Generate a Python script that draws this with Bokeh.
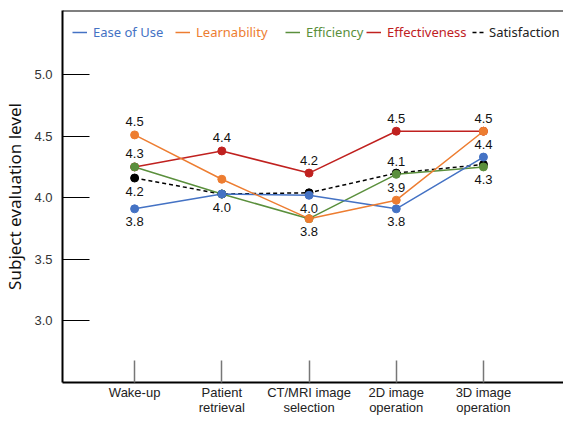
from bokeh.plotting import figure
from bokeh.models import Range1d, FixedTicker, Span, Legend, LegendItem, ColumnDataSource
from bokeh.core.properties import value
from bokeh.embed import file_html
from bokeh.resources import INLINE

# ---- data ----
tasks = ["Wake-up", "Patient\nretrieval", "CT/MRI image\nselection", "2D image\noperation", "3D image\noperation"]
series_names = ["Ease of Use", "Learnability", "Efficiency", "Effectiveness", "Satisfaction"]

ease_of_use = [3.91, 4.03, 4.02, 3.91, 4.33]
learnability = [4.51, 4.15, 3.83, 3.98, 4.54]
efficiency = [4.25, 4.03, 3.83, 4.19, 4.25]
effectiveness = [4.25, 4.38, 4.20, 4.54, 4.54]
satisfaction = [4.16, 4.03, 4.04, 4.20, 4.27]

ease_labels = ["3.8", "4.0", "4.0", "3.8", "4.4"]
ease_sides = ["below", "below", "below", "below", "above"]
learn_labels = ["4.5", "", "3.8", "3.9", "4.5"]
learn_sides = ["above", "", "below", "above", "above"]
eff_labels = ["4.3", "", "", "4.1", "4.3"]
eff_sides = ["above", "", "", "above", "below"]
effect_labels = ["", "4.4", "4.2", "4.5", ""]
effect_sides = ["", "above", "above", "above", ""]
sat_labels = ["4.2", "", "", "", ""]
sat_sides = ["below", "", "", "", ""]

y_ticks = [3.0, 3.5, 4.0, 4.5, 5.0]

# ---- styling ----
colors = {"Ease of Use": "#4472C4", "Learnability": "#ED7D31", "Efficiency": "#5A8F3C",
          "Effectiveness": "#C0211F", "Satisfaction": "#000000"}

x = list(range(len(tasks)))
y_start, y_end = 2.5, 5.52

p = figure(width=563, height=419, output_backend="svg", toolbar_location=None,
           x_range=Range1d(-0.827, 4.918), y_range=Range1d(y_start, y_end),
           min_border_left=56, min_border_right=0, min_border_top=10, min_border_bottom=37)
p.outline_line_color = None
p.xgrid.visible = False
p.ygrid.visible = False
p.background_fill_color = "white"

p.add_layout(Span(location=y_end, dimension="width", line_color="black", line_width=2))

# axes
p.yaxis.ticker = FixedTicker(ticks=y_ticks)
p.yaxis.major_label_overrides = {t: f"{t:.1f}" for t in y_ticks}
p.yaxis.axis_line_width = 2
p.yaxis.axis_line_color = "black"
p.yaxis.major_tick_in = 27
p.yaxis.major_tick_out = 0
p.yaxis.major_tick_line_color = "black"
p.yaxis.minor_tick_line_color = None
p.yaxis.major_label_standoff = 10
p.yaxis.major_label_text_font = "Liberation Sans"
p.yaxis.major_label_text_font_size = "13px"
p.yaxis.major_label_text_color = "#333333"
p.yaxis.axis_label = "Subject evaluation level"
p.yaxis.axis_label_text_font = "Noto Sans"
p.yaxis.axis_label_text_font_size = "17px"
p.yaxis.axis_label_text_font_style = "normal"
p.yaxis.axis_label_text_color = "#111111"
p.yaxis.axis_label_standoff = 5

p.xaxis.ticker = FixedTicker(ticks=x)
p.xaxis.major_label_overrides = {i: t for i, t in zip(x, tasks)}
p.xaxis.axis_line_width = 2
p.xaxis.axis_line_color = "black"
p.xaxis.major_tick_in = 22
p.xaxis.major_tick_out = 0
p.xaxis.major_tick_line_color = "#777777"
p.xaxis.major_tick_line_width = 1.5
p.xaxis.minor_tick_line_color = None
p.xaxis.major_label_standoff = 2
p.xaxis.major_label_text_font = "Liberation Sans"
p.xaxis.major_label_text_font_size = "13px"
p.xaxis.major_label_text_line_height = 1.05
p.xaxis.major_label_text_color = "#222222"

data = {"Ease of Use": ease_of_use, "Learnability": learnability, "Efficiency": efficiency,
        "Effectiveness": effectiveness, "Satisfaction": satisfaction}
labels = {"Ease of Use": (ease_labels, ease_sides), "Learnability": (learn_labels, learn_sides),
          "Efficiency": (eff_labels, eff_sides), "Effectiveness": (effect_labels, effect_sides),
          "Satisfaction": (sat_labels, sat_sides)}

line_renderers = {}
draw_order = ["Satisfaction", "Effectiveness", "Efficiency", "Ease of Use", "Learnability"]
for name in draw_order:
    dash = "4 3" if name == "Satisfaction" else "solid"
    r = p.line(x, data[name], line_color=colors[name], line_width=1.5, line_dash=dash)
    line_renderers[name] = r
for name in draw_order:
    p.scatter(x, data[name], size=8, fill_color=colors[name], line_color=colors[name])

# data labels
lx, ly, lt, lo = [], [], [], []
for name in series_names:
    labs, sides = labels[name]
    for i, (t, s) in enumerate(zip(labs, sides)):
        if t:
            lx.append(x[i]); ly.append(data[name][i]); lt.append(t)
            lo.append(-13 if s == "above" else 13)
src = ColumnDataSource(dict(x=lx, y=ly, t=lt, o=lo))
p.text("x", "y", text="t", y_offset="o", source=src, text_align="center", text_baseline="middle",
       text_font=value("Liberation Sans"), text_font_size="13px", text_color="#111111")

# legends (one per item so each label gets its own colour)
legend_x = [10, 113, 223, 304, 410]
legend_glyph_w = [15, 15, 15, 15, 12]
legend_standoff = [6, 6, 6, 6, 5]
for name, lxp, gw, so in zip(series_names, legend_x, legend_glyph_w, legend_standoff):
    lg = Legend(items=[LegendItem(label=name, renderers=[line_renderers[name]])],
                location=(lxp, 341), orientation="horizontal",
                padding=0, margin=0, spacing=0, glyph_width=gw, glyph_height=16,
                label_height=16, label_standoff=so,
                label_text_font="Noto Sans", label_text_font_size="13px",
                label_text_color=colors[name] if name != "Satisfaction" else "#222222",
                background_fill_alpha=0, border_line_color=None)
    p.add_layout(lg, "center")

open("out.html", "w").write(file_html(p, INLINE))
